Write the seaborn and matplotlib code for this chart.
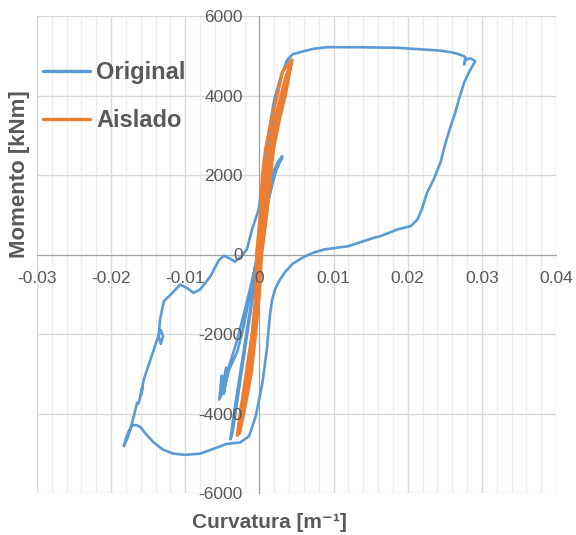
import numpy as np
import pandas as pd
import matplotlib
matplotlib.use("Agg")
import matplotlib.pyplot as plt
import matplotlib.ticker as mticker
import seaborn as sns

# Curva momento-curvatura, estructura original (kNm vs 1/m)
orig_curv = [
    0.0000, 0.0004, 0.0009, 0.0016, 0.0024, 0.0031, 0.0027, 0.0019, 0.0010, 0.0002,
    -0.0003, -0.0012, -0.0023, -0.0030, -0.0041, -0.0048, -0.0053, -0.0049, -0.0051, -0.0054,
    -0.0046, -0.0048, -0.0043, -0.0045, -0.0050, -0.0040, -0.0030, -0.0019, -0.0008, 0.0001,
    0.0009, 0.0018, 0.0026, 0.0030, 0.0022, 0.0012, 0.0004, -0.0005, -0.0014, -0.0021,
    -0.0028, -0.0035, -0.0039, -0.0036, -0.0030, -0.0022, -0.0012, -0.0004, 0.0003, 0.0009,
    0.0015, 0.0022, 0.0030, 0.0037, 0.0045, 0.0060, 0.0073, 0.0091, 0.0132, 0.0186,
    0.0222, 0.0244, 0.0262, 0.0270, 0.0276, 0.0278, 0.0276, 0.0278, 0.0285, 0.0291,
    0.0283, 0.0276, 0.0269, 0.0264, 0.0258, 0.0251, 0.0244, 0.0235, 0.0226, 0.0219,
    0.0213, 0.0204, 0.0186, 0.0163, 0.0154, 0.0120, 0.0087, 0.0072, 0.0060, 0.0045,
    0.0035, 0.0027, 0.0021, 0.0017, 0.0014, 0.0010, 0.0004, -0.0005, -0.0014, -0.0026,
    -0.0035, -0.0045, -0.0062, -0.0080, -0.0100, -0.0116, -0.0130, -0.0143, -0.0153, -0.0160,
    -0.0166, -0.0172, -0.0176, -0.0180, -0.0183, -0.0178, -0.0174, -0.0165, -0.0163, -0.0158,
    -0.0160, -0.0156, -0.0147, -0.0138, -0.0133, -0.0130, -0.0133, -0.0136, -0.0134, -0.0129,
    -0.0122, -0.0111, -0.0107, -0.0098, -0.0089, -0.0080, -0.0066, -0.0055, -0.0048, -0.0040,
    -0.0033, -0.0025, -0.0017, -0.0010, -0.0001, 0.0006, 0.0012, 0.0020, 0.0030, 0.0040,
]
orig_mom = [
    0, 600, 1300, 1950, 2300, 2470, 2380, 2000, 1250, 450,
    -50, -950, -1950, -2450, -2900, -3400, -3580, -3250, -3050, -3650,
    -3100, -3500, -3000, -2850, -3350, -2750, -2150, -1350, -500, 350,
    1150, 1900, 2300, 2420, 2100, 1350, 500, -545, -1550, -2390,
    -3230, -4070, -4650, -4450, -3700, -2700, -1450, -350, 700, 1900,
    3000, 3900, 4500, 4880, 5040, 5115, 5175, 5215, 5215, 5200,
    5157, 5130, 5075, 5030, 4985, 4960, 4780, 4900, 4935, 4863,
    4600, 4320, 3900, 3565, 3230, 2810, 2307, 1887, 1552, 1132,
    880, 713, 629, 461, 419, 209, 126, 40, -60, -230,
    -430, -650, -880, -1150, -1550, -2390, -3230, -4070, -4570, -4730,
    -4745, -4770, -4890, -5010, -5040, -5010, -4910, -4720, -4520, -4350,
    -4290, -4300, -4440, -4620, -4822, -4620, -4400, -3730, -3750, -3350,
    -3550, -3145, -2640, -2140, -1900, -2050, -2250, -2050, -1635, -1175,
    -1050, -840, -755, -840, -965, -880, -545, -150, -30, -100,
    -180, -60, 126, 630, 1130, 2100, 3000, 3900, 4550, 4950,
]

# Estructura aislada
aisl_curv = [
    -0.0030, -0.0026, -0.0018, -0.0010, -0.0005, -0.0004, 0.0001, 0.0004, 0.0008, 0.0017,
    0.0024, 0.0031, 0.0044, 0.0040, 0.0035, 0.0028, 0.0019, 0.0015, 0.0010, 0.0003,
    0.0000, -0.0005, -0.0011, -0.0021, -0.0027, -0.0023, -0.0015, -0.0008, -0.0003, 0.0000,
    0.0004, 0.0008, 0.0013, 0.0022, 0.0029, 0.0036, 0.0043, 0.0041, 0.0033, 0.0025,
    0.0016, 0.0011, 0.0006, 0.0001, -0.0003, -0.0007, -0.0013, -0.0023, -0.0029,
]
aisl_mom = [
    -4550, -4000, -3000, -2000, -1000, 0, 1000, 2000, 2640, 3480,
    4000, 4600, 4900, 4500, 4000, 3480, 2640, 2000, 1000, 0,
    -1000, -2000, -3000, -4000, -4500, -4000, -3000, -2000, -1000, 0,
    1000, 2000, 2640, 3480, 4000, 4500, 4850, 4650, 4050, 3480,
    2640, 2000, 1000, 0, -1000, -2000, -3000, -4000, -4520,
]

BLUE = "#5B9BD5"
ORANGE = "#ED7D31"
TEXT = "#595959"

df_orig = pd.DataFrame({"curv": orig_curv, "mom": orig_mom})
df_aisl = pd.DataFrame({"curv": aisl_curv, "mom": aisl_mom})

sns.set_style("white")
plt.rcParams["font.family"] = ["Liberation Sans", "DejaVu Sans"]
plt.rcParams["axes.unicode_minus"] = False

fig = plt.figure(figsize=(5.76, 5.35), dpi=100)
ax = fig.add_axes([37 / 576, 1 - 493 / 535, (556 - 37) / 576, (493 - 16) / 535])

# rejilla dibujada a mano para que quede debajo de las curvas y de las etiquetas
for v in np.arange(-0.03, 0.0401, 0.002):
    major = abs(v / 0.01 - round(v / 0.01)) < 1e-6
    ax.axvline(v, color="#d9d9d9" if major else "#ededed", linewidth=1.0, zorder=0.5)
for v in np.arange(-6000, 6001, 2000):
    ax.axhline(v, color="#d9d9d9", linewidth=1.0, zorder=0.6)

sns.lineplot(data=df_orig, x="curv", y="mom", sort=False, estimator=None,
             color=BLUE, linewidth=1.9, label="Original", ax=ax,
             solid_joinstyle="round", solid_capstyle="round")
sns.lineplot(data=df_aisl, x="curv", y="mom", sort=False, estimator=None,
             color=ORANGE, linewidth=2.2, label="Aislado", ax=ax,
             solid_joinstyle="round", solid_capstyle="round")

ax.set_xlim(-0.03, 0.04)
ax.set_ylim(-6000, 6000)
ax.xaxis.set_major_locator(mticker.MultipleLocator(0.01))
ax.yaxis.set_major_locator(mticker.MultipleLocator(2000))
ax.xaxis.set_major_formatter(mticker.FuncFormatter(lambda v, p: "0" if abs(v) < 1e-9 else f"{v:.2f}"))
ax.yaxis.set_major_formatter(mticker.FuncFormatter(lambda v, p: f"{v:.0f}"))
ax.grid(False)
ax.set_axisbelow(False)

# ejes que se cruzan en el origen, como en Excel
for side in ["top", "right"]:
    ax.spines[side].set_visible(False)
ax.spines["left"].set_position(("data", 0))
ax.spines["bottom"].set_position(("data", 0))
for side in ["left", "bottom"]:
    ax.spines[side].set_color("#a0a0a0")
    ax.spines[side].set_zorder(1.5)

ax.tick_params(axis="both", which="both", length=0, labelsize=12.5, labelcolor=TEXT)
ax.tick_params(axis="x", pad=12)
ax.tick_params(axis="y", pad=12)

ax.set_xlabel("")
ax.set_ylabel("")
fig.text(20 / 576, 1 - 174 / 535, "Momento [kNm]", rotation=90, ha="center", va="center",
         fontsize=16, fontweight="bold", color=TEXT)
fig.text(269 / 576, 1 - 522 / 535, "Curvatura [m⁻¹]", ha="center", va="center",
         fontsize=15, fontweight="bold", color=TEXT)

leg = ax.legend(loc="upper left", bbox_to_anchor=(0.012, 0.905), frameon=False,
                fontsize=17, handlelength=2.0, handletextpad=0.25, labelspacing=1.05,
                borderaxespad=0.0, borderpad=0.0)
for t in leg.get_texts():
    t.set_fontweight("bold")
    t.set_color(TEXT)
for h in leg.get_lines():
    h.set_linewidth(2.4)

fig.savefig("out.png", dpi=100)
